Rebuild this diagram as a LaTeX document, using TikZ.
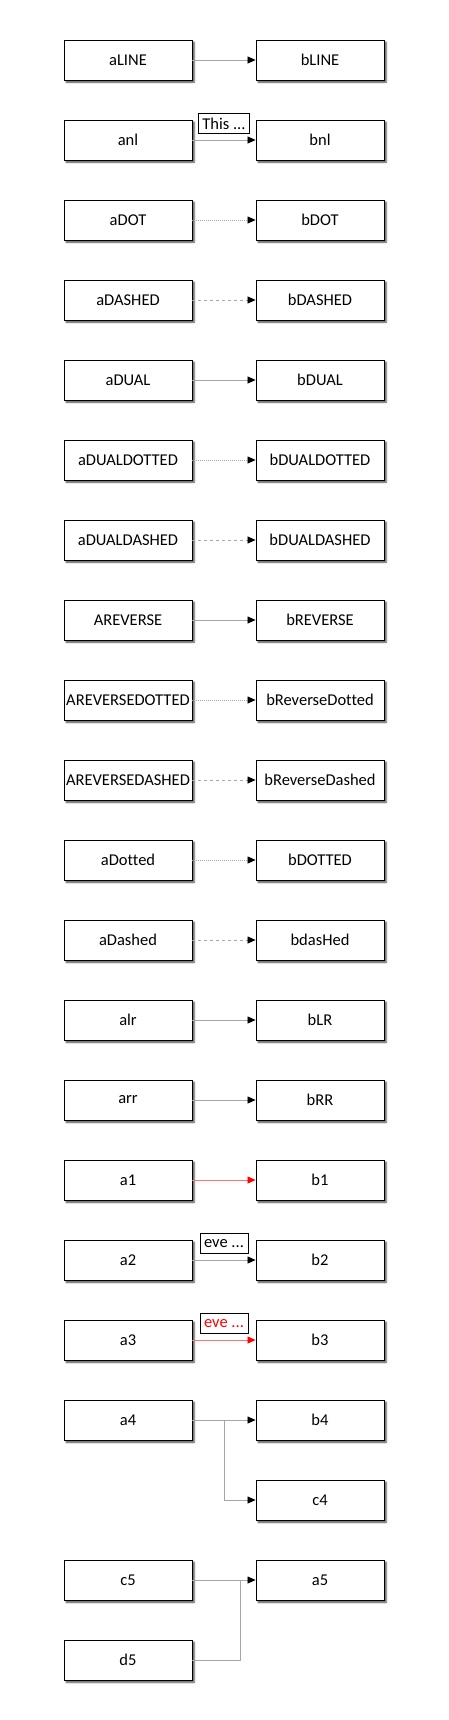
\documentclass[tikz,border=0pt]{standalone}
\usepackage{fontspec}
\setmainfont{Carlito}[Ligatures={NoCommon,NoRare}]
\usetikzlibrary{arrows.meta,shadows.blur,calc}
\begin{document}
\begin{tikzpicture}[x=1pt,y=-1pt,
  box/.style={draw=black,line width=0.9pt,fill=white,minimum width=128pt,minimum height=40pt,inner sep=0pt,
    font=\fontsize{16.5}{18}\selectfont,
    blur shadow={shadow xshift=2.2pt,shadow yshift=-2.2pt,shadow blur radius=1.8pt,shadow opacity=75}},
  conn/.style={draw=black!35,line width=0.7pt,-{Triangle[length=8pt,width=7pt,black]}},
  plain/.style={draw=black!35,line width=0.7pt},
  redconn/.style={draw=red!55,line width=0.7pt,-{Triangle[length=8pt,width=7pt,red]}},
  dotl/.style={dash pattern=on 1pt off 1pt},
  dashl/.style={dash pattern=on 3pt off 3pt},
  lbl/.style={draw=black,line width=0.8pt,fill=white,inner xsep=4pt,inner ysep=0pt,minimum height=20pt,
    font=\fontsize{16.5}{18}\selectfont}
]
\useasboundingbox (0,0) rectangle (448,1720);
\foreach \i/\l/\r in {0/aLINE/bLINE,1/anl/bnl,2/aDOT/bDOT,3/aDASHED/bDASHED,4/aDUAL/bDUAL,
  5/aDUALDOTTED/bDUALDOTTED,6/aDUALDASHED/bDUALDASHED,7/AREVERSE/bREVERSE,
  8/AREVERSEDOTTED/bReverseDotted,9/AREVERSEDASHED/bReverseDashed,10/aDotted/bDOTTED,
  11/aDashed/bdasHed,12/alr/bLR,13/arr/bRR,14/a1/b1,15/a2/b2,16/a3/b3,17/a4/b4}{
  \node[box] (L\i) at (128,60+80*\i) {\l};
  \node[box] (R\i) at (320,60+80*\i) {\r};
}
\node[box] (R18) at (320,1500) {c4};
\node[box] (L19) at (128,1580) {c5};
\node[box] (R19) at (320,1580) {a5};
\node[box] (L20) at (128,1660) {d5};

\draw[conn] (L0.east) -- (R0.west);
\draw[conn] (L1.east) -- node[lbl,midway,above=6pt] (t1) {This ...} (R1.west);
\draw[conn,dotl] (L2.east) -- (R2.west);
\draw[conn,dashl] (L3.east) -- (R3.west);
\draw[conn] (L4.east) -- (R4.west);
\draw[conn,dotl] (L5.east) -- (R5.west);
\draw[conn,dashl] (L6.east) -- (R6.west);
\draw[conn] (L7.east) -- (R7.west);
\draw[conn,dotl] (L8.east) -- (R8.west);
\draw[conn,dashl] (L9.east) -- (R9.west);
\draw[conn,dotl] (L10.east) -- (R10.west);
\draw[conn,dashl] (L11.east) -- (R11.west);
\draw[conn] (L12.east) -- (R12.west);
\draw[conn] (L13.east) -- (R13.west);
\draw[redconn] (L14.east) -- (R14.west);
\draw[conn] (L15.east) -- node[lbl,midway,above=6pt] (t15) {eve ...} (R15.west);
\draw[redconn] (L16.east) -- node[lbl,midway,above=6pt,text=red] (t16) {eve ...} (R16.west);
\coordinate (j4) at ($(L17.east)!0.5!(R17.west)$);
\draw[conn] (L17.east) -- (R17.west);
\draw[conn] (j4) |- (R18.west);
\coordinate (j5) at (240,1580);
\draw[conn] (L19.east) -- (R19.west);
\draw[plain] (L20.east) -| (j5);
\end{tikzpicture}
\end{document}
